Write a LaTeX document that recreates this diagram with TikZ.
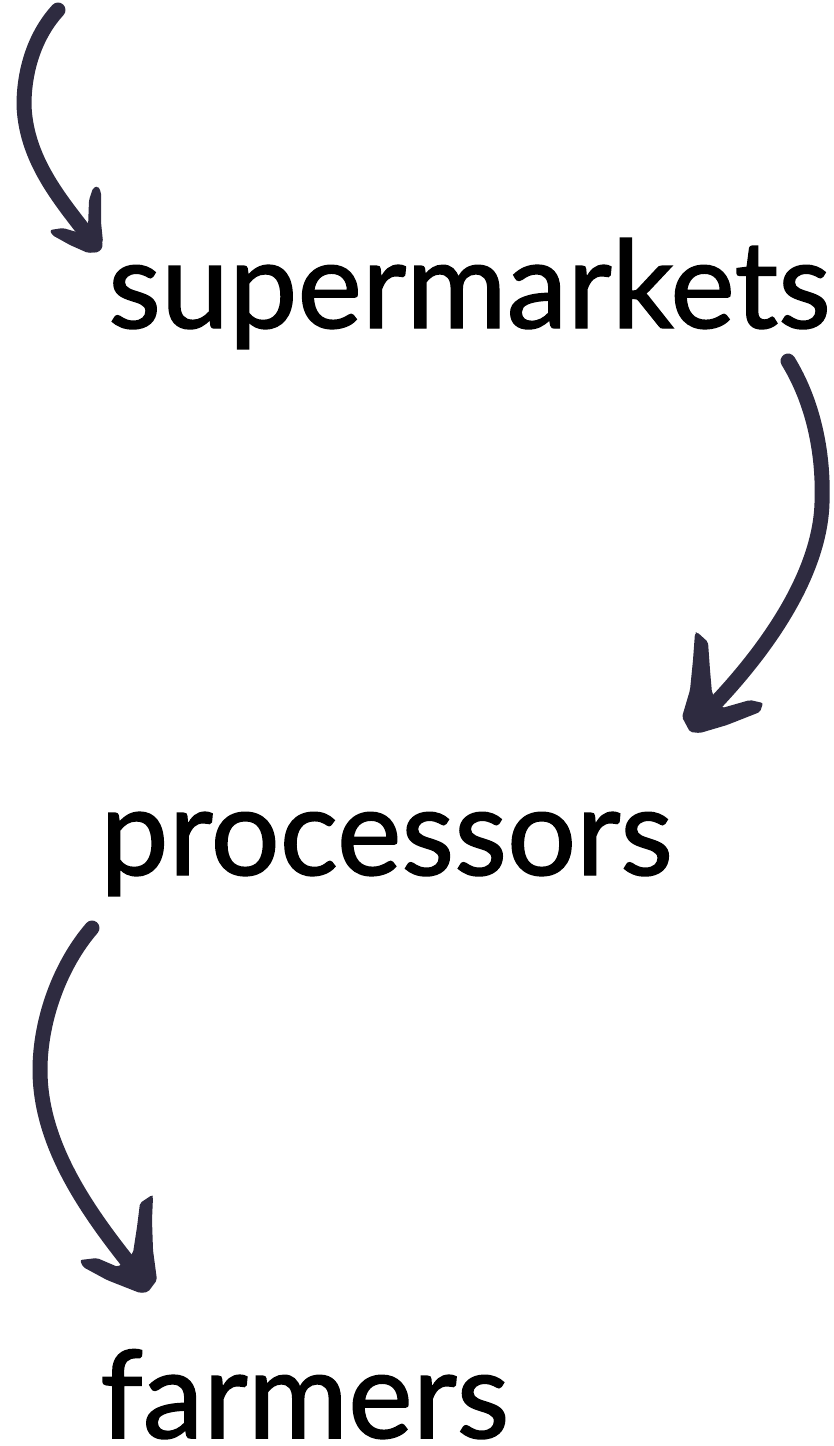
\documentclass[tikz,border=0pt]{standalone}
\usepackage{fontspec}
\setmainfont{Lato}[FakeBold=1.2]
\definecolor{ink}{RGB}{46,43,64}
\tikzset{
  shaft/.style={draw=ink, line width=15pt, line cap=round, line join=round},
  head/.style={fill=ink, rounded corners=2pt},
  word/.style={anchor=base west, inner sep=0pt, font=\fontsize{122}{130}\selectfont}
}
\begin{document}
\begin{tikzpicture}[x=1pt,y=-1pt]
    \useasboundingbox (0,0) rectangle (834,1446);

    \node[word] (super) at (108,328) {supermarkets};
    \node[word] (proc) at (100,875) {processors};
    \node[word] (farm) at (100,1438) {farmers};

    % arrow into supermarkets
    \coordinate (s1) at (58,10);
    \coordinate (t1) at (95,245);
    \draw [shaft] (s1) .. controls (35,35) and (24,70) .. (24,105)
          .. controls (26,165) and (68,208) .. (t1);
    \fill [head] (t1) +(3,-59) -- +(6,-53) -- +(6,-23) -- +(8,-3) -- +(2,7)
          -- +(-7,8) -- +(-25,0) -- +(-43,-10) -- +(-45,-15) -- +(-32,-17)
          -- +(-15,-12) -- +(-7,-17) -- +(-6,-45) -- +(-2,-57) -- cycle;

    % supermarkets to processors
    \coordinate (s2) at (788,361);
    \coordinate (t2) at (697,722);
    \draw [shaft] (s2) .. controls (812,400) and (824,450) .. (822,503)
          .. controls (820,570) and (772,648) .. (t2);
    \fill [head] (t2) +(0,-90) -- +(11,-80) -- +(13,-52) -- +(15,-29)
          -- +(25,-14) -- +(53,-22) -- +(66,-19) -- +(63,-10) -- +(30,3)
          -- +(3,11) -- +(-7,10) -- +(-15,-5) -- +(-7,-32) -- +(-4,-62)
          -- +(-2,-89) -- cycle;

    % processors to farmers
    \coordinate (s3) at (92,928);
    \coordinate (t3) at (145,1283);
    \draw [shaft] (s3) .. controls (60,965) and (40,1020) .. (40,1070)
          .. controls (40,1150) and (95,1222) .. (t3);
    \fill [head] (t3) +(7,-88) -- +(-5,-80) -- +(-8,-56) -- +(-12,-30)
          -- +(-27,-16) -- +(-48,-25) -- +(-65,-23) -- +(-62,-16) -- +(-38,-3)
          -- +(-5,10) -- +(3,9) -- +(12,-3) -- +(8,-33) -- +(7,-63)
          -- +(8,-86) -- cycle;
\end{tikzpicture}
\end{document}
